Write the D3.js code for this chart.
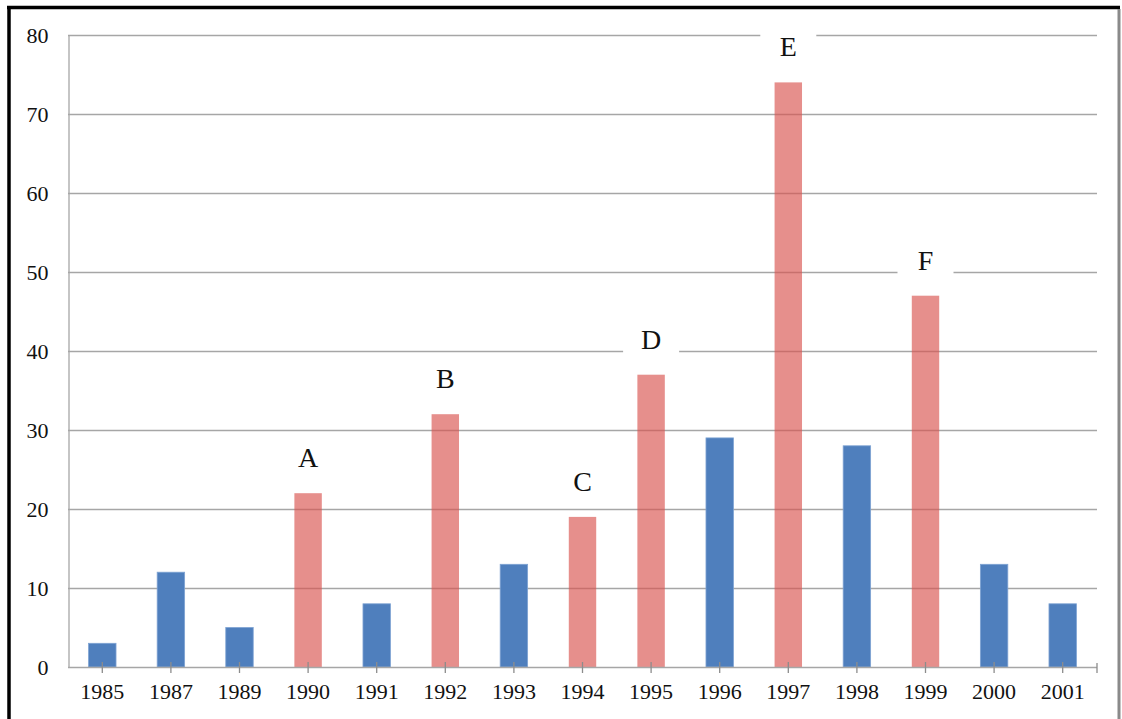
<!DOCTYPE html>
<html>
<head>
<meta charset="utf-8">
<script src="https://cdn.jsdelivr.net/npm/d3@7"></script>
<style>
  html, body { margin: 0; padding: 0; background: #fff; }
  svg { display: block; }
  text { font-family: "Liberation Serif", "Times New Roman", serif; fill: #111; }
</style>
</head>
<body>
<svg id="chart" width="1122" height="719"></svg>
<script>
// Yearly counts; lettered years are the highlighted events
const years  = ["1985","1987","1989","1990","1991","1992","1993","1994","1995","1996","1997","1998","1999","2000","2001"];
const values = [3, 12, 5, 22, 8, 32, 13, 19, 37, 29, 74, 28, 47, 13, 8];
const marks  = ["", "", "", "A", "", "B", "", "C", "D", "", "E", "", "F", "", ""];
const yTicks = [0, 10, 20, 30, 40, 50, 60, 70, 80];

const svg = d3.select("#chart");
const W = 1122, H = 719;
const m = { left: 68, right: 1097, top: 35, bottom: 667 };

// outer frame
svg.append("line").attr("x1", 7).attr("x2", 1120).attr("y1", 7.5).attr("y2", 7.5)
  .attr("stroke", "#000").attr("stroke-width", 3.5);
svg.append("line").attr("x1", 9).attr("x2", 9).attr("y1", 6).attr("y2", H)
  .attr("stroke", "#000").attr("stroke-width", 3.5);
svg.append("line").attr("x1", 1119).attr("x2", 1119).attr("y1", 9).attr("y2", H)
  .attr("stroke", "#8a8a8a").attr("stroke-width", 3);

const x = d3.scaleBand().domain(years).range([m.left, m.right])
  .paddingInner(0.6).paddingOuter(0.3);
const y = d3.scaleLinear().domain([0, 80]).range([m.bottom, m.top]);

// horizontal gridlines
svg.append("g").selectAll("line").data(yTicks.filter(t => t > 0)).join("line")
  .attr("x1", m.left).attr("x2", m.right)
  .attr("y1", d => y(d) + 0.5).attr("y2", d => y(d) + 0.5)
  .attr("stroke", "#a6a6a6").attr("stroke-width", 1.3);

// y axis
const yAxis = svg.append("g").attr("transform", `translate(${m.left + 0.5},0)`)
  .call(d3.axisLeft(y).tickValues(yTicks).tickSize(0).tickPadding(20));
yAxis.select(".domain").attr("stroke", "#a6a6a6").attr("stroke-width", 1.3);
yAxis.selectAll("text").attr("font-size", 22).style("font-family", "Liberation Serif");

// bars
const data = years.map((yr, i) => ({ yr, v: values[i], mark: marks[i] }));
svg.append("g").selectAll("rect").data(data).join("rect")
  .attr("x", d => x(d.yr))
  .attr("width", x.bandwidth())
  .attr("y", d => y(d.v))
  .attr("height", d => y(0) - y(d.v))
  .attr("fill", d => d.mark ? "#d9534f" : "#4f7fbd")
  .attr("fill-opacity", d => d.mark ? 0.65 : 1)
  .attr("stroke", d => d.mark ? "none" : "#7ea3d3")
  .attr("stroke-width", 0.8);

// x axis with crossing ticks at category centres
const gx = svg.append("g");
gx.append("line").attr("x1", m.left).attr("x2", m.right)
  .attr("y1", m.bottom + 0.5).attr("y2", m.bottom + 0.5)
  .attr("stroke", "#a6a6a6").attr("stroke-width", 1.3);
gx.selectAll("line.tk").data(years).join("line").attr("class", "tk")
  .attr("x1", d => x(d) + x.bandwidth() / 2).attr("x2", d => x(d) + x.bandwidth() / 2)
  .attr("y1", m.bottom - 5).attr("y2", m.bottom + 6)
  .attr("stroke", "#8c8c8c").attr("stroke-width", 1.3);
gx.append("line").attr("x1", m.right).attr("x2", m.right)
  .attr("y1", m.bottom - 4).attr("y2", m.bottom + 6)
  .attr("stroke", "#8c8c8c").attr("stroke-width", 1.3);
gx.selectAll("text").data(years).join("text")
  .attr("x", d => x(d) + x.bandwidth() / 2)
  .attr("y", m.bottom + 32)
  .attr("text-anchor", "middle")
  .attr("font-size", 22)
  .text(d => d);

// letter labels on white patches above highlighted bars
const lab = svg.append("g").selectAll("g").data(data.filter(d => d.mark)).join("g")
  .attr("transform", d => `translate(${x(d.yr) + x.bandwidth() / 2},${y(d.v) - 35})`);
lab.append("rect").attr("x", -28).attr("y", -15).attr("width", 56).attr("height", 31)
  .attr("fill", "#fff");
lab.append("text").attr("text-anchor", "middle").attr("y", 9)
  .attr("font-size", 28).text(d => d.mark);
</script>
</body>
</html>
